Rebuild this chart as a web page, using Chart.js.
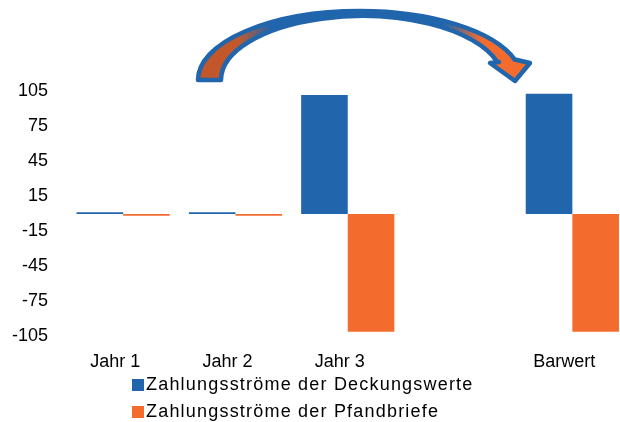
<!DOCTYPE html>
<html>
<head>
<meta charset="utf-8">
<script src="https://cdn.jsdelivr.net/npm/chart.js@4"></script>
<style>
  html, body { margin: 0; padding: 0; background: #fff; overflow: hidden; }
  #wrap { position: relative; width: 620px; height: 422px; overflow: hidden; }
  #wrap canvas { position: absolute; left: 0; top: 0; }
  #legend { position: absolute; left: 132px; top: 371px; font-family: "Liberation Sans", Arial, sans-serif;
            font-size: 18px; letter-spacing: 1.2px; color: #000; }
  #legend div { height: 27px; line-height: 27px; white-space: nowrap; }
  #legend span { display: inline-block; width: 12px; height: 12px; margin-right: 2px; vertical-align: -1px; }
</style>
</head>
<body>
<div id="wrap">
  <canvas id="chart" width="640" height="422"></canvas>
  <div id="legend"></div>
</div>
<script>
const categories = ['Jahr 1', 'Jahr 2', 'Jahr 3', '', 'Barwert'];
const deckungswerte = [1.5, 1.5, 102, null, 103];
const pfandbriefe = [-1.5, -1.5, -101, null, -101];
const yTicks = [-105, -75, -45, -15, 15, 45, 75, 105];

const blue = '#2166ac';
const orange = '#f36c2d';

// gebogener Pfeil oben (Deko)
const arrowPlugin = {
  id: 'arrow',
  afterDraw(chart) {
    const c = chart.ctx;
    const cx = 360, cy = 80;
    c.save();
    c.beginPath();
    c.ellipse(cx, cy, 162, 69, 0, Math.PI, Math.PI * 1.5 + 1.27, false);
    // Pfeilkopf
    c.lineTo(530, 63);
    c.lineTo(515, 81);
    c.lineTo(490, 63);
    c.lineTo(499, 62);
    c.ellipse(cx + 2, cy, 141, 64, 0, Math.PI * 1.5 + 1.28, Math.PI, true);
    c.closePath();
    const g = c.createLinearGradient(200, 0, 520, 0);
    g.addColorStop(0, '#c0562a');
    g.addColorStop(0.12, '#c4582a');
    g.addColorStop(0.22, blue);
    g.addColorStop(0.76, blue);
    g.addColorStop(0.88, orange);
    g.addColorStop(1, orange);
    c.fillStyle = g;
    c.fill();
    c.lineWidth = 4.5;
    c.lineJoin = 'round';
    c.strokeStyle = blue;
    c.stroke();
    c.restore();
  }
};

const chart = new Chart(document.getElementById('chart'), {
  type: 'bar',
  data: {
    labels: categories,
    datasets: [
      { label: 'Zahlungsströme der Deckungswerte', data: deckungswerte, backgroundColor: blue },
      { label: 'Zahlungsströme der Pfandbriefe', data: pfandbriefe, backgroundColor: orange }
    ]
  },
  options: {
    responsive: false,
    animation: false,
    layout: { padding: { top: 91.5, left: 12, right: 11.5, bottom: 45.5 } },
    datasets: { bar: { categoryPercentage: 0.83, barPercentage: 1.0 } },
    plugins: { legend: { display: false }, tooltip: { enabled: false } },
    scales: {
      x: {
        grid: { display: false, drawTicks: false },
        border: { display: false },
        afterFit: (axis) => { axis.height = 40; },
        ticks: { color: '#000', padding: 15, labelOffset: -8, maxRotation: 0, font: { family: 'Liberation Sans', size: 18 } }
      },
      y: {
        min: -105,
        max: 105,
        afterBuildTicks: (axis) => { axis.ticks = yTicks.map(v => ({ value: v })); },
        afterFit: (axis) => { axis.width = 55; },
        grid: { display: false, drawTicks: false },
        border: { display: false },
        ticks: { color: '#000', padding: 19, font: { family: 'Liberation Sans', size: 18 } }
      }
    }
  },
  plugins: [arrowPlugin]
});

document.getElementById('legend').innerHTML = chart.data.datasets.map(ds =>
  '<div><span style="background:' + ds.backgroundColor + '"></span>' + ds.label + '</div>'
).join('');
</script>
</body>
</html>
